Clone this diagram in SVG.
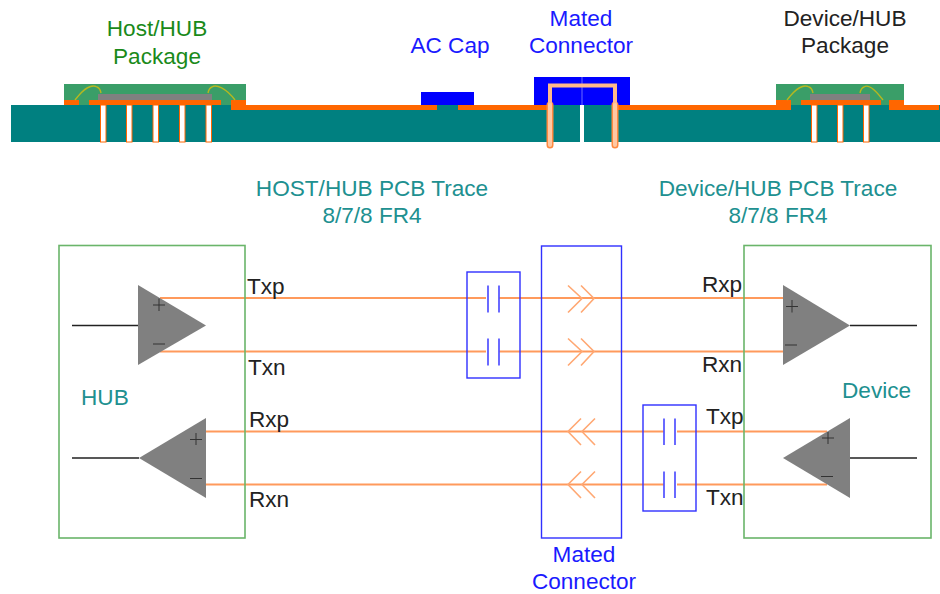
<svg xmlns="http://www.w3.org/2000/svg" width="940" height="594" viewBox="0 0 940 594">
<style>
text{font-family:"Liberation Sans",Arial,sans-serif;font-size:22.6px}
.g{fill:#1a8a1a}.b{fill:#1a1aff}.t{fill:#209090}.k{fill:#222}
.pcb{fill:#008080}.pkg{fill:#3a9e68}.or{fill:#ff6600}.die{fill:#808080}.cap{fill:#0000ff}
.via{fill:#fff;stroke:#ff6600;stroke-width:1}
.wire{fill:none;stroke:#b5b820;stroke-width:1.4}
.box{fill:none}.gb{stroke:#6ab56a;stroke-width:1.6}.bb{stroke:#3030ff;stroke-width:1.4}
.tr{fill:none;stroke:#ff9a5c;stroke-width:1.9}
.chev{fill:none;stroke:#ffa873;stroke-width:1.6}
.plate{fill:none;stroke:#5050ff;stroke-width:1.7}
.sig{fill:none;stroke:#222;stroke-width:1.3}
.amp{fill:#808080}
.pm{fill:none;stroke:#333;stroke-width:1}
</style>
<g id="stackup">
<rect class="pcb" x="11" y="105" width="929" height="37"/>
<rect x="580" y="105" width="4" height="37" fill="#fff"/>
<g id="host-package">
<rect class="pkg" x="64" y="84" width="182" height="21"/>
<rect class="die" x="98" y="94" width="114" height="6"/>
<rect class="or" x="64" y="100" width="15" height="5"/>
<rect class="or" x="89" y="100" width="132" height="5"/>
<rect class="or" x="231" y="100" width="15" height="10"/>
<path class="wire" d="M75 100C84 88 92 84 97 87Q100 88 101 93"/>
<path class="wire" d="M235 100C226 88 216 84 212 87Q209 88 208 93"/>
<rect class="via" x="100.500" y="105" width="5.500" height="37"/>
<rect class="via" x="126.500" y="105" width="5.500" height="37"/>
<rect class="via" x="153" y="105" width="5.500" height="37"/>
<rect class="via" x="179.500" y="105" width="5.500" height="37"/>
<rect class="via" x="206" y="105" width="5.500" height="37"/>
</g>
<rect class="or" x="246" y="105" width="191" height="5"/>
<rect class="or" x="458" y="105" width="90" height="5"/>
<rect class="or" x="616" y="105" width="160" height="5"/>
<g id="ac-cap"><rect class="cap" x="421" y="92" width="53" height="13"/></g>
<g id="mated-connector-section">
<rect class="cap" x="534" y="77" width="96" height="28"/>
<path d="M582 77V105" stroke="#6a6aff" stroke-width="1" fill="none"/>
<path d="M550 105V145M615 105V145" fill="none" stroke="#ff8a40" stroke-width="7" stroke-linecap="round"/>
<path d="M550 105V85.500H615V105" fill="none" stroke="#ffb98a" stroke-width="4"/>
<path d="M550 105V145M615 105V145" fill="none" stroke="#ffc9a3" stroke-width="4" stroke-linecap="round"/>
</g>
<g id="device-package">
<rect class="pkg" x="776" y="84" width="128" height="21"/>
<rect class="die" x="810" y="94" width="60" height="6"/>
<rect class="or" x="776" y="100" width="15" height="10"/>
<rect class="or" x="801" y="100" width="80" height="5"/>
<rect class="or" x="889" y="100" width="15" height="10"/>
<rect class="or" x="904" y="105" width="35" height="5"/>
<path class="wire" d="M787 100C796 88 804 84 809 87Q812 88 813 93"/>
<path class="wire" d="M883 100C874 88 868 84 864 87Q861 88 860 93"/>
<rect class="via" x="811.500" y="105" width="5.500" height="37"/>
<rect class="via" x="837.500" y="105" width="5.500" height="37"/>
<rect class="via" x="863.500" y="105" width="5.500" height="37"/>
</g>
</g>
<g id="connectors">
<path class="tr" d="M160 298H486M499 298H783"/>
<path class="tr" d="M160 351.500H486M499 351.500H783"/>
<path class="tr" d="M206 431.500H664M677 431.500H827"/>
<path class="tr" d="M206 484.500H664M677 484.500H827"/>
<path class="chev" d="M568 285.500L582 298.500L568 312.500M581 285.500L594 298.500L581 312.500"/>
<path class="chev" d="M568 338.500L582 351.500L568 365.500M581 338.500L594 351.500L581 365.500"/>
<path class="chev" d="M581 418.500L568 431.500L581 445M595 418.500L582 431.500L595 445"/>
<path class="chev" d="M581 471.500L568 484.500L581 498M595 471.500L582 484.500L595 498"/>
<path class="sig" d="M72 325.500H138M850 325.500H917M72 458H139M850 458H917"/>
</g>
<g id="hub"><rect class="box gb" x="59" y="245.500" width="186" height="292.500"/></g>
<g id="device"><rect class="box gb" x="744" y="245.500" width="187" height="292.500"/></g>
<g id="mated-connector"><rect class="box bb" x="541.500" y="246" width="80" height="292"/></g>
<g id="cap-tx">
<rect class="box bb" x="467" y="272" width="53" height="106"/>
<path class="plate" d="M488 285.500V312.500M499 285.500V312.500M488 338.500V365.500M499 338.500V365.500"/>
</g>
<g id="cap-rx">
<rect class="box bb" x="643" y="405" width="53" height="106"/>
<path class="plate" d="M664 418.500V445M675 418.500V445M664 471.500V498M675 471.500V498"/>
</g>
<g id="amp-tx-hub">
<path class="amp" d="M138 285L206 325.500L138 365Z"/>
<path class="pm" d="M159 298.500V311M153 305H165M153 344H165"/>
</g>
<g id="amp-rx-hub">
<path class="amp" d="M206 418L139 458L206 498Z"/>
<path class="pm" d="M196 433V445M190 439.500H202M190 478.500H202"/>
</g>
<g id="amp-rx-device">
<path class="amp" d="M783 285L850 325.500L783 365Z"/>
<path class="pm" d="M792 300V312.500M786 306.500H798M785 345H797"/>
</g>
<g id="amp-tx-device">
<path class="amp" d="M850 418L783 458L850 498Z"/>
<path class="pm" d="M828 432V444M822 438H834M821 476.500H833"/>
</g>
<g id="labels">
<text class="g" x="157" y="36" text-anchor="middle">Host/HUB</text>
<text class="g" x="157" y="64" text-anchor="middle">Package</text>
<text class="b" x="450" y="53" text-anchor="middle">AC Cap</text>
<text class="b" x="581" y="26" text-anchor="middle">Mated</text>
<text class="b" x="581" y="53" text-anchor="middle">Connector</text>
<text class="k" x="845" y="26" text-anchor="middle">Device/HUB</text>
<text class="k" x="845" y="53" text-anchor="middle">Package</text>
<text class="t" x="372" y="196" text-anchor="middle">HOST/HUB PCB Trace</text>
<text class="t" x="372" y="223" text-anchor="middle">8/7/8 FR4</text>
<text class="t" x="778" y="196" text-anchor="middle">Device/HUB PCB Trace</text>
<text class="t" x="778" y="223" text-anchor="middle">8/7/8 FR4</text>
<text class="k" x="247" y="294">Txp</text>
<text class="k" x="248" y="375">Txn</text>
<text class="k" x="249" y="427">Rxp</text>
<text class="k" x="249" y="507">Rxn</text>
<text class="k" x="702" y="292">Rxp</text>
<text class="k" x="702" y="372">Rxn</text>
<text class="k" x="706" y="424">Txp</text>
<text class="k" x="706" y="505">Txn</text>
<text class="t" x="81" y="405">HUB</text>
<text class="t" x="842" y="398">Device</text>
<text class="b" x="584" y="562" text-anchor="middle">Mated</text>
<text class="b" x="584" y="589" text-anchor="middle">Connector</text>
</g>
</svg>
